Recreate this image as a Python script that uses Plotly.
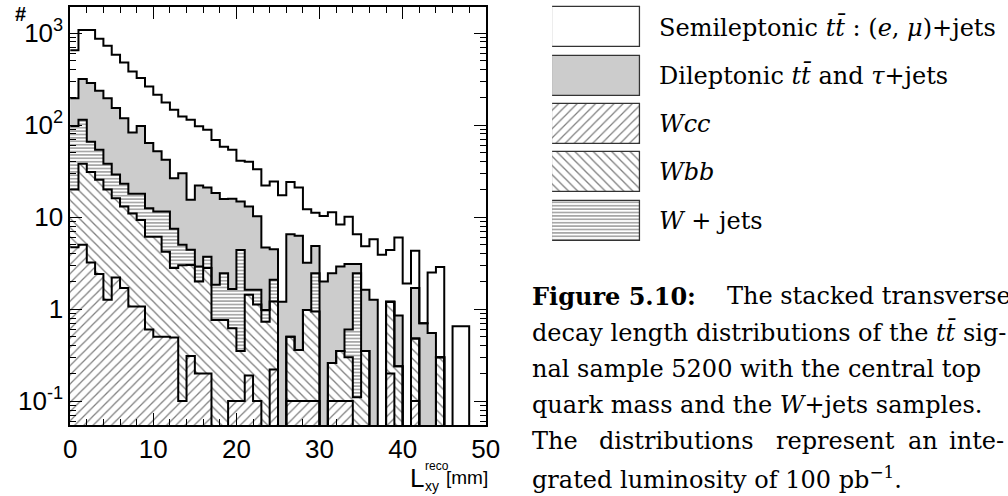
import math
import plotly.graph_objects as go

W, H = 1008, 496

# ---- histogram contents, 1 mm bins from 0 to 50 mm ----
bin_lo = list(range(0, 50))

wcc = [4.7, 5.0, 3.2, 2.4, 1.26, 2.2, 1.7, 1.07, 1.07, 0.6,
       0.5, 0.5, 0.49, 0.1, 0.31, 0.2, 0.2, 0, 0, 0.1,
       0.1, 0.19, 0.1, 0, 0.22, 0, 0.1, 0.1, 0.1, 0.1,
       0, 0.1, 0.1, 0.1, 0, 0, 0, 0, 0.2, 0,
       0, 0.1, 0, 0, 0, 0, 0, 0, 0, 0]
wbb = [15.3, 33, 27.8, 23.1, 18.7, 13.8, 11.3, 9.9, 8.2, 5.5,
       5.6, 3.7, 2.3, 2.9, 2.7, 1.8, 2.6, 0.76, 0.76, 0.52,
       0.25, 1.24, 1.02, 0.73, 0.99, 0, 0.4, 0.26, 0.88, 0.84,
       0, 0.16, 0.25, 0.2, 0.11, 0.35, 0, 0, 1.0, 0.24,
       0, 0.38, 0, 0, 0.3, 0, 0, 0, 0, 0]
wjets = [78, 76, 35, 28.5, 18, 13, 10, 7, 8.7, 6.4,
         5.4, 7.3, 4.7, 2.0, 1.4, 0.9, 0.9, 1.08, 1.7, 1.03,
         4.05, 0.19, 0.5, 0.25, 0.87, 0, 0, 0, 0, 1.52,
         0, 0, 0, 0.3, 2.35, 0, 0, 0, 0, 0,
         0, 0, 0, 0, 0, 0, 0, 0, 0, 0]
dilep = [98, 202, 220, 182, 158, 124, 96, 65, 80, 51.5,
         40.5, 30.5, 19, 25, 11, 19.1, 17.3, 16.4, 13.3, 14.2,
         10.4, 11.4, 8.6, 3.7, 2.4, 1.2, 6.0, 5.9, 2.2, 2.4,
         2.0, 2.2, 2.55, 2.5, 0.64, 1.27, 1.26, 0, 0, 0.61,
         0, 1.22, 0.7, 0.55, 0, 0, 0, 0, 0, 0]
semilep = [454, 764, 794, 629, 532, 428, 360, 300, 226, 199,
           161, 134, 120.5, 94, 98.6, 75, 68, 50.8, 42.2, 38.2,
           26.2, 27, 22.8, 17.3, 19.9, 16.1, 17.5, 14.7, 9.0, 6.3,
           8.3, 8.8, 5.4, 7.0, 3.4, 3.2, 4.5, 3.9, 3.2, 5.15,
           1.9, 2.6, 0, 1.95, 2.56, 0, 0.65, 0.65, 0, 0]

# stacking order, bottom to top
components = [wcc, wbb, wjets, dilep, semilep]
styles = [
    dict(color="white", pattern=dict(shape="/", size=6.5, solidity=0.2, fgcolor="black")),
    dict(color="white", pattern=dict(shape="\\", size=6.5, solidity=0.2, fgcolor="black")),
    dict(color="white", pattern=dict(shape="-", size=3.4, solidity=0.34, fgcolor="black")),
    dict(color="#cccccc"),
    dict(color="white"),
]

# cumulative stack levels
levels = []
run = [0.0] * 50
for comp in components:
    run = [a + b for a, b in zip(run, comp)]
    levels.append(run[:])

YMIN, YMAX = 0.055, 1920.0
FLOOR = 1e-4  # empty bins: contour drops below the axis

fig = go.Figure()

# filled histograms, painted from the top of the stack downwards
for lev, st in reversed(list(zip(levels, styles))):
    marker = dict(color=st["color"], line=dict(width=0))
    if "pattern" in st:
        marker["pattern"] = dict(fillmode="overlay", **st["pattern"])
    fig.add_trace(go.Bar(
        x=[b + 0.5 for b in bin_lo], y=[v if v > 0 else None for v in lev],
        width=1.0, marker=marker, showlegend=False, hoverinfo="skip",
        xaxis="x", yaxis="y"))

# histogram contours
for lev in reversed(levels):
    ys = [v if v > 0 else FLOOR for v in lev]
    fig.add_trace(go.Scatter(
        x=bin_lo + [50], y=ys + [ys[-1]], mode="lines",
        line=dict(color="black", width=2, shape="hv"),
        showlegend=False, hoverinfo="skip", xaxis="x", yaxis="y"))

# ---- frame geometry (pixels) ----
X0, X1, Y0, Y1 = 64.5, 489.0, 7.0, 425.0

def fx(p):
    return p / W

def fy(p):
    return 1 - p / H

tickfont = dict(family="Liberation Sans, Arial, sans-serif", size=26, color="black")

fig.update_layout(
    width=W, height=H, margin=dict(l=0, r=0, t=0, b=0),
    paper_bgcolor="white", plot_bgcolor="white",
    barmode="overlay", bargap=0,
    xaxis=dict(domain=[fx(X0), fx(X1)], range=[0, 50], showgrid=False, zeroline=False,
               showline=True, linecolor="black", linewidth=1.5, mirror="allticks",
               ticks="inside", ticklen=12, tickwidth=1, tickcolor="black",
               tickvals=[0, 10, 20, 30, 40, 50], tickfont=tickfont,
               minor=dict(ticks="inside", ticklen=6, tickwidth=1, tickcolor="black",
                          dtick=2, tick0=0, showgrid=False)),
    yaxis=dict(domain=[fy(Y1), fy(Y0)], type="log",
               range=[math.log10(YMIN), math.log10(YMAX)],
               showgrid=False, zeroline=False,
               showline=True, linecolor="black", linewidth=1.5, mirror="allticks",
               ticks="inside", ticklen=12, tickwidth=1, tickcolor="black",
               tickvals=[0.1, 1, 10, 100, 1000],
               ticktext=["10<sup>-1</sup>", "1", "10", "10<sup>2</sup>", "10<sup>3</sup>"],
               tickfont=tickfont,
               minor=dict(ticks="inside", ticklen=6, tickwidth=1, tickcolor="black",
                          tickvals=[m * 10 ** e for e in range(-2, 4) for m in range(2, 10)],
                          showgrid=False)),
)

# ---- legend swatches on their own axes ----
LX0, LX1 = 556.7, 647.3
ROW0, ROW_STEP, BOX_H = 27.3, 48.3, 40.0
fig.update_layout(
    xaxis2=dict(domain=[fx(LX0), fx(LX1)], range=[0, 1], visible=False, fixedrange=True),
    yaxis2=dict(domain=[fy(250), fy(0)], range=[250, 0], visible=False, fixedrange=True),
)
legend_styles = [styles[4], styles[3], styles[0], styles[1], styles[2]]
for i, st in enumerate(legend_styles):
    marker = dict(color=st["color"], line=dict(width=1.3, color="#333"))
    if "pattern" in st:
        marker["pattern"] = dict(fillmode="overlay", **st["pattern"])
    fig.add_trace(go.Bar(
        x=[0.995], y=[ROW0 + i * ROW_STEP], base=[0.0025], width=[BOX_H], orientation="h",
        marker=marker, showlegend=False, hoverinfo="skip", xaxis="x2", yaxis="y2"))

serif = "DejaVu Serif, Liberation Serif, serif"
legend_labels = [
    "Semileptonic <i>tt\u0304</i> : (<i>e</i>, <i>\u03bc</i>)+jets",
    "Dileptonic <i>tt\u0304</i> and <i>\u03c4</i>+jets",
    "<i>Wcc</i>",
    "<i>Wbb</i>",
    "<i>W</i> + jets",
]
ann = []
for i, txt in enumerate(legend_labels):
    ann.append(dict(x=fx(664), y=fy(ROW0 + i * ROW_STEP), xref="paper", yref="paper",
                    text=txt, showarrow=False, xanchor="left", yanchor="middle",
                    font=dict(family=serif, size=24, color="black")))

# caption: one run of text per line, stretched lines split where the gaps open up
cap_font = dict(family=serif, size=24, color="black")
caption = [
    [("<b>Figure 5.10:</b>", 534), ("The stacked transverse", 733)],
    [("decay length distributions of the <i>tt\u0304</i> sig-", 534)],
    [("nal sample 5200 with the central top", 534)],
    [("quark mass and the <i>W</i>+jets samples.", 534)],
    [("The", 534), ("distributions", 603), ("represent", 783), ("an", 918), ("inte-", 960)],
    [("grated luminosity of 100 pb<sup>\u22121</sup>.", 534)],
]
for i, pieces in enumerate(caption):
    yc = fy(296 + i * 36.3)
    for txt, xw in pieces:
        ann.append(dict(x=fx(xw), y=yc, xref="paper", yref="paper", text=txt,
                        showarrow=False, xanchor="left", yanchor="middle", font=cap_font))

# axis captions
sans = "Liberation Sans, Arial, sans-serif"
ann += [
    dict(x=fx(14), y=fy(1), xref="paper", yref="paper", text="<b>#</b>", showarrow=False,
         xanchor="center", yanchor="top", font=dict(family=sans, size=20, color="black")),
    dict(x=fx(410), y=fy(478), xref="paper", yref="paper", text="L", showarrow=False,
         xanchor="left", yanchor="middle", font=dict(family=sans, size=26, color="black")),
    dict(x=fx(425), y=fy(466), xref="paper", yref="paper", text="reco", showarrow=False,
         xanchor="left", yanchor="middle", font=dict(family=sans, size=12, color="black")),
    dict(x=fx(425), y=fy(486), xref="paper", yref="paper", text="xy", showarrow=False,
         xanchor="left", yanchor="middle", font=dict(family=sans, size=14, color="black")),
    dict(x=fx(493), y=fy(477), xref="paper", yref="paper", text="[mm]", showarrow=False,
         xanchor="right", yanchor="middle", font=dict(family=sans, size=19, color="black")),
]
fig.update_layout(annotations=ann)

fig.write_html("out.html")
